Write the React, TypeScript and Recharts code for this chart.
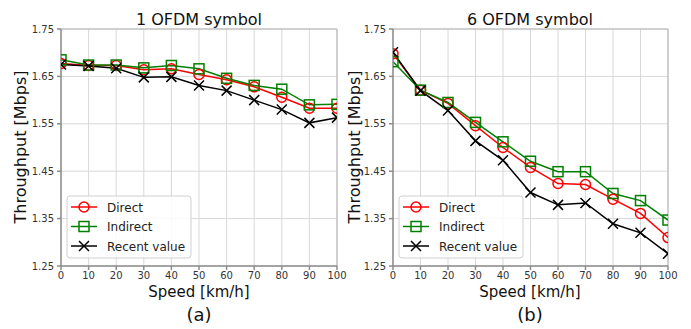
import React from "react";
import {
  CartesianGrid,
  Line,
  LineChart,
  ReferenceLine,
  XAxis,
  YAxis,
} from "recharts";

// Speed [km/h]
const speeds = [0, 10, 20, 30, 40, 50, 60, 70, 80, 90, 100];
const speedTicks = [0, 10, 20, 30, 40, 50, 60, 70, 80, 90, 100];
const throughputTicks = [1.25, 1.35, 1.45, 1.55, 1.65, 1.75];

// (a) 1 OFDM symbol
const directA = [1.677, 1.673, 1.673, 1.664, 1.666, 1.654, 1.643, 1.628, 1.606, 1.583, 1.583];
const indirectA = [1.685, 1.674, 1.674, 1.668, 1.673, 1.666, 1.646, 1.631, 1.623, 1.59, 1.591];
const recentA = [1.675, 1.672, 1.667, 1.648, 1.649, 1.631, 1.62, 1.6, 1.58, 1.552, 1.563];

// (b) 6 OFDM symbol
const directB = [1.698, 1.621, 1.593, 1.546, 1.5, 1.458, 1.424, 1.422, 1.391, 1.361, 1.31];
const indirectB = [1.681, 1.621, 1.595, 1.553, 1.512, 1.471, 1.449, 1.449, 1.403, 1.388, 1.347];
const recentB = [1.701, 1.62, 1.578, 1.514, 1.473, 1.405, 1.379, 1.383, 1.339, 1.32, 1.276];

const FONT = "'DejaVu Sans', sans-serif";
const RED = "#ff0000";
const GREEN = "#008000";
const BLACK = "#000000";

const circleDot = (color: string) => (p: any) => (
  <circle key={p.index} cx={p.cx} cy={p.cy} r={5} fill="none" stroke={color} strokeWidth={1.5} />
);
const squareDot = (color: string) => (p: any) => (
  <rect key={p.index} x={p.cx - 5} y={p.cy - 5} width={10} height={10} fill="none" stroke={color} strokeWidth={1.5} />
);
const crossDot = (color: string) => (p: any) => (
  <path
    key={p.index}
    d={`M${p.cx - 5},${p.cy - 5}L${p.cx + 5},${p.cy + 5}M${p.cx + 5},${p.cy - 5}L${p.cx - 5},${p.cy + 5}`}
    stroke={color}
    strokeWidth={1.5}
    fill="none"
  />
);

interface PanelProps {
  direct: number[];
  indirect: number[];
  recent: number[];
  width: number;
  yAxisWidth: number;
  rightMargin: number;
}

function Panel({ direct, indirect, recent, width, yAxisWidth, rightMargin }: PanelProps) {
  const data = speeds.map((s, i) => ({
    speed: s,
    direct: direct[i],
    indirect: indirect[i],
    recent: recent[i],
  }));
  const tick = { fontSize: 10, fill: "#333", fontFamily: FONT };
  return (
    <LineChart
      width={width}
      height={329}
      data={data}
      margin={{ top: 29, right: rightMargin, left: 0, bottom: 43 }}
    >
      <CartesianGrid stroke="#d8d8d8" strokeWidth={1} />
      <XAxis
        dataKey="speed"
        type="number"
        domain={[0, 100]}
        ticks={speedTicks}
        allowDataOverflow
        height={20}
        tick={tick}
        tickSize={4}
        tickMargin={2}
        stroke="#8c8c8c"
        strokeWidth={1.5}
        interval={0}
      />
      <YAxis
        type="number"
        domain={[1.25, 1.75]}
        ticks={throughputTicks}
        allowDataOverflow
        width={yAxisWidth}
        tick={tick}
        tickSize={4}
        tickMargin={3}
        tickFormatter={(v: number) => v.toFixed(2)}
        stroke="#8c8c8c"
        strokeWidth={1.5}
        interval={0}
      />
      <ReferenceLine y={1.75} stroke="#b4b4b4" />
      <ReferenceLine x={100} stroke="#b4b4b4" />
      <Line dataKey="direct" stroke={RED} strokeWidth={1.5} dot={circleDot(RED)} isAnimationActive={false} />
      <Line dataKey="indirect" stroke={GREEN} strokeWidth={1.5} dot={squareDot(GREEN)} isAnimationActive={false} />
      <Line dataKey="recent" stroke={BLACK} strokeWidth={1.5} dot={crossDot(BLACK)} isAnimationActive={false} />
    </LineChart>
  );
}

const legendItems = [
  { label: "Direct", color: RED, kind: "circle" },
  { label: "Indirect", color: GREEN, kind: "square" },
  { label: "Recent value", color: BLACK, kind: "cross" },
];

function LegendBox({ x, y }: { x: number; y: number }) {
  return (
    <g>
      <rect x={x} y={y} width={124} height={62} rx={3} fill="#fff" fillOpacity={0.85} stroke="#d0d0d0" />
      {legendItems.map((it, i) => {
        const cy = y + 11 + i * 19.5;
        const mx = x + 17;
        return (
          <g key={it.label}>
            <line x1={x + 4} x2={x + 30} y1={cy} y2={cy} stroke={it.color} strokeWidth={1.5} />
            {it.kind === "circle" && <circle cx={mx} cy={cy} r={5} fill="none" stroke={it.color} strokeWidth={1.5} />}
            {it.kind === "square" && (
              <rect x={mx - 5} y={cy - 5} width={10} height={10} fill="none" stroke={it.color} strokeWidth={1.5} />
            )}
            {it.kind === "cross" && (
              <path
                d={`M${mx - 5},${cy - 5}L${mx + 5},${cy + 5}M${mx + 5},${cy - 5}L${mx - 5},${cy + 5}`}
                stroke={it.color}
                strokeWidth={1.5}
              />
            )}
            <text x={x + 40} y={cy + 4.5} fontSize={12} fill="#222" fontFamily={FONT}>
              {it.label}
            </text>
          </g>
        );
      })}
    </g>
  );
}

export default function App() {
  return (
    <div style={{ position: "absolute", left: 0, top: 0, width: 691, height: 329, background: "#fff" }}>
      <div style={{ position: "absolute", left: 0, top: 0 }}>
        <Panel direct={directA} indirect={indirectA} recent={recentA} width={356} yAxisWidth={61} rightMargin={19} />
      </div>
      <div style={{ position: "absolute", left: 345, top: 0 }}>
        <Panel direct={directB} indirect={indirectB} recent={recentB} width={346} yAxisWidth={48} rightMargin={23} />
      </div>
      <svg
        width={691}
        height={329}
        style={{ position: "absolute", left: 0, top: 0, pointerEvents: "none" }}
        fontFamily={FONT}
      >
        <text x={199} y={25} textAnchor="middle" fontSize={16} fill="#111">1 OFDM symbol</text>
        <text x={530} y={25} textAnchor="middle" fontSize={16} fill="#111">6 OFDM symbol</text>
        <text x={199} y={297} textAnchor="middle" fontSize={15} fill="#111">Speed [km/h]</text>
        <text x={530} y={297} textAnchor="middle" fontSize={15} fill="#111">Speed [km/h]</text>
        <text x={199} y={321} textAnchor="middle" fontSize={18} fill="#111">(a)</text>
        <text x={530} y={321} textAnchor="middle" fontSize={18} fill="#111">(b)</text>
        <text transform="translate(26,147) rotate(-90)" textAnchor="middle" fontSize={16} fill="#111">
          Throughput [Mbps]
        </text>
        <text transform="translate(360,147) rotate(-90)" textAnchor="middle" fontSize={16} fill="#111">
          Throughput [Mbps]
        </text>
        <LegendBox x={67} y={196} />
        <LegendBox x={399} y={196} />
      </svg>
    </div>
  );
}
